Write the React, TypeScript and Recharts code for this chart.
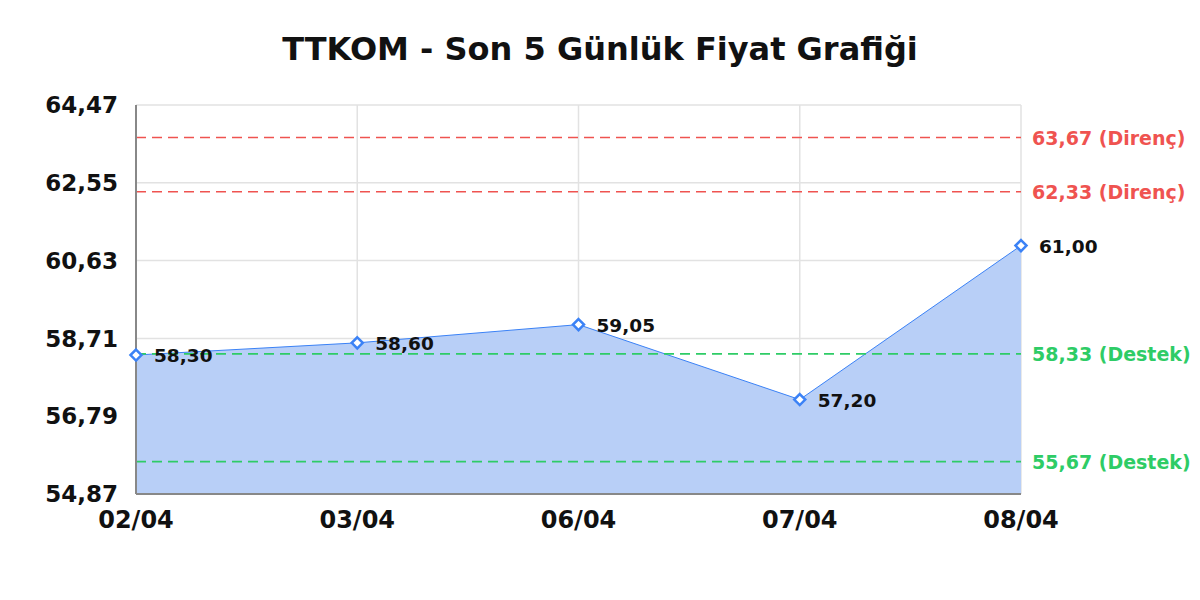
import React from 'react';
import {
    AreaChart, Area, XAxis, YAxis, CartesianGrid, ReferenceLine, LabelList
} from 'recharts';

const days = ['02/04', '03/04', '06/04', '07/04', '08/04'];
const prices = [58.30, 58.60, 59.05, 57.20, 61.00];
const yTicks = [54.87, 56.79, 58.71, 60.63, 62.55, 64.47];
const resistance = [63.67, 62.33];
const support = [58.33, 55.67];

const data = days.map((day, i) => ({ day, price: prices[i] }));

const FONT = '"DejaVu Sans", sans-serif';
const fmt = (v: number) => v.toFixed(2).replace('.', ',');

const red = '#ef5350';
const green = '#2ecc66';
const blue = '#3b82f6';

// diamond marker
const Diamond = (props: any) => {
    const { cx, cy } = props;
    if (cx == null || cy == null) return null;
    const r = 5.5;
    return (
        <path
            d={`M${cx},${cy - r} L${cx + r},${cy} L${cx},${cy + r} L${cx - r},${cy} Z`}
            fill="#ffffff"
            stroke={blue}
            strokeWidth={2.5}
        />
    );
};

const PointLabel = (props: any) => {
    const { x, y, value } = props;
    return (
        <text x={x + 18} y={y + 2} dominantBaseline="middle" fontFamily={FONT}
            fontWeight="bold" fontSize={18.5} fill="#111">
            {fmt(value)}
        </text>
    );
};

const refLabel = (text: string, color: string) => (props: any) => {
    const { viewBox } = props;
    return (
        <text x={viewBox.x + viewBox.width + 11} y={viewBox.y + 2} dominantBaseline="middle"
            fontFamily={FONT} fontWeight="bold" fontSize={19} fill={color}>
            {text}
        </text>
    );
};

export default function App() {
    return (
        <div style={{ position: 'absolute', left: 0, top: 0, width: 1200, height: 600, background: '#fff' }}>
            <div style={{
                position: 'absolute', left: 0, top: 29, width: 1200, textAlign: 'center',
                fontFamily: FONT, fontWeight: 'bold', fontSize: 32, color: '#111', lineHeight: '40px'
            }}>
                TTKOM - Son 5 Günlük Fiyat Grafiği
            </div>
            <AreaChart width={1200} height={600} data={data}
                margin={{ top: 105, right: 179, left: 0, bottom: 66 }}>
                <CartesianGrid stroke="#e2e2e2" strokeWidth={1.5} />
                <XAxis
                    dataKey="day"
                    height={40}
                    axisLine={{ stroke: '#888', strokeWidth: 2 }}
                    tickLine={false}
                    tick={{ fill: '#111', fontSize: 24, fontWeight: 'bold', fontFamily: FONT }}
                    dy={9}
                    interval={0}
                    padding={{ left: 0, right: 0 }}
                />
                <YAxis
                    width={136}
                    domain={[54.87, 64.47]}
                    ticks={yTicks}
                    tickFormatter={fmt}
                    axisLine={{ stroke: '#888', strokeWidth: 2 }}
                    tickLine={false}
                    tick={{ fill: '#111', fontSize: 23, fontWeight: 'bold', fontFamily: FONT }}
                    dx={-10}
                    interval={0}
                />
                <Area
                    type="linear"
                    dataKey="price"
                    stroke={blue}
                    strokeWidth={1}
                    fill="#b8cff7"
                    fillOpacity={1}
                    baseValue={54.87}
                    dot={<Diamond />}
                    activeDot={false}
                    isAnimationActive={false}
                >
                    <LabelList dataKey="price" content={<PointLabel />} />
                </Area>
                {resistance.map(v => (
                    <ReferenceLine key={`r-${v}`} y={v} stroke={red} strokeWidth={1.5}
                        strokeDasharray="10 6" label={refLabel(`${fmt(v)} (Direnç)`, red)} />
                ))}
                {support.map(v => (
                    <ReferenceLine key={`s-${v}`} y={v} stroke={green} strokeWidth={1.8}
                        strokeDasharray="10 6" label={refLabel(`${fmt(v)} (Destek)`, green)} />
                ))}
            </AreaChart>
        </div>
    );
}
